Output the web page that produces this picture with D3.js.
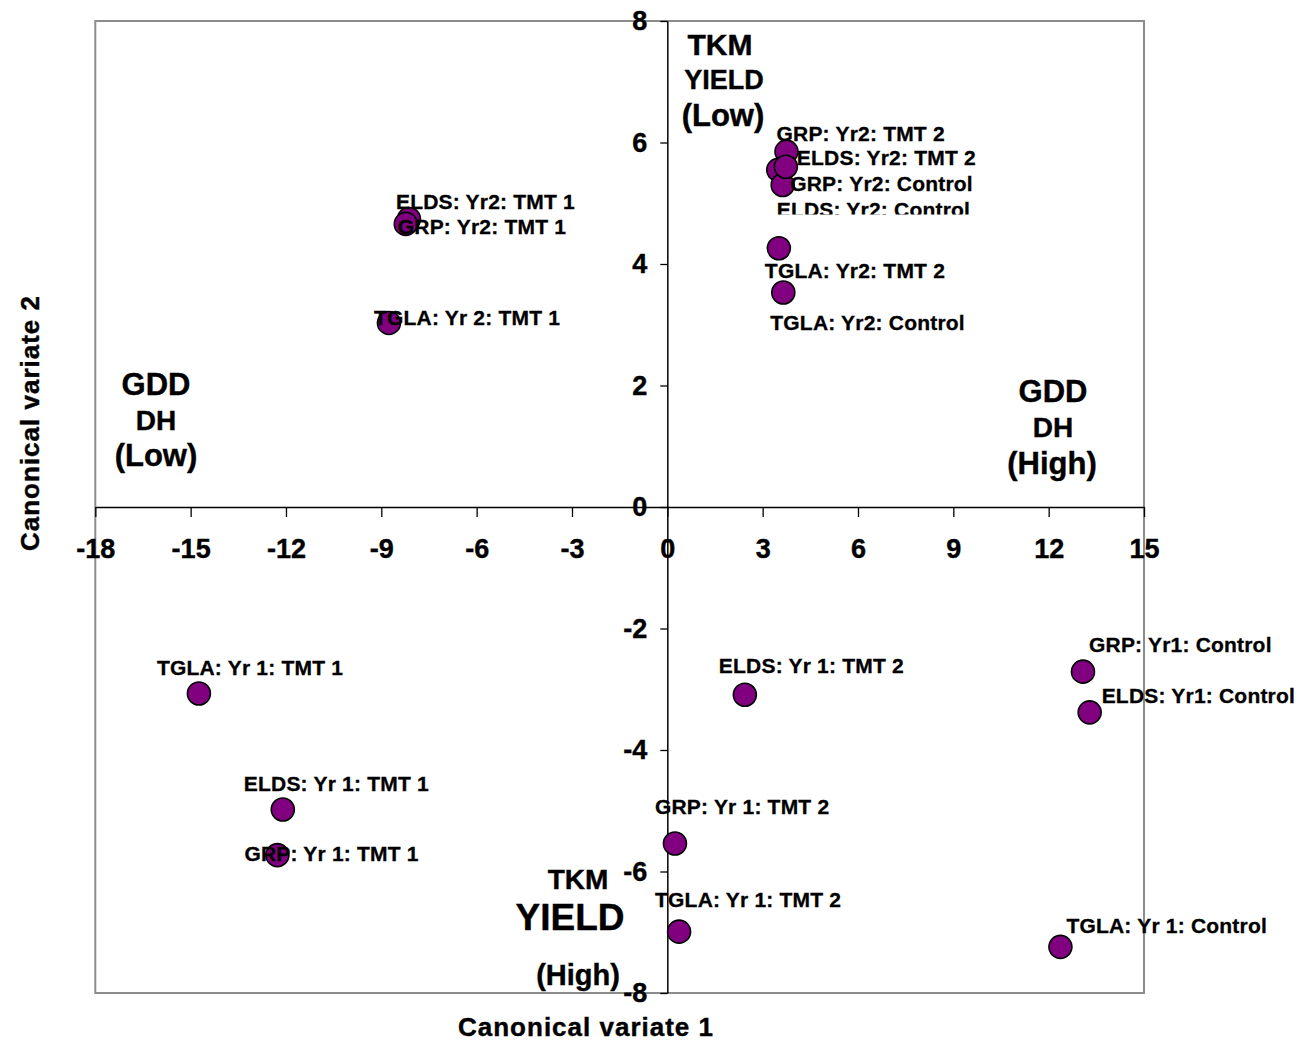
<!DOCTYPE html>
<html>
<head>
<meta charset="utf-8">
<script src="https://cdn.jsdelivr.net/npm/d3@7"></script>
<style>
  html, body { margin: 0; padding: 0; background: #fff; }
  svg { display: block; font-family: "Liberation Sans", Arial, sans-serif; }
</style>
</head>
<body>
<svg id="chart" width="1314" height="1041"></svg>
<script>
// Canonical variate scores for each trait / year / treatment group
const names = [
  "ELDS: Yr2: TMT 1", "GRP: Yr2: TMT 1", "TGLA: Yr 2: TMT 1",
  "GRP: Yr2: TMT 2", "GRP: Yr2: Control", "ELDS: Yr2: Control", "ELDS: Yr2: TMT 2",
  "TGLA: Yr2: TMT 2", "TGLA: Yr2: Control",
  "TGLA: Yr 1: TMT 1", "ELDS: Yr 1: TMT 1", "GRP: Yr 1: TMT 1",
  "ELDS: Yr 1: TMT 2", "GRP: Yr 1: TMT 2", "TGLA: Yr 1: TMT 2",
  "GRP: Yr1: Control", "ELDS: Yr1: Control", "TGLA: Yr 1: Control"
];
const cv1 = [
  -8.13, -8.23, -8.76,
  3.75, 3.49, 3.63, 3.73,
  3.51, 3.65,
  -14.74, -12.10, -12.27,
  2.44, 0.24, 0.37,
  13.08, 13.29, 12.37
];
const cv2 = [
  4.74, 4.66, 3.03,
  5.85, 5.55, 5.30, 5.60,
  4.26, 3.53,
  -3.07, -4.98, -5.73,
  -3.09, -5.54, -6.99,
  -2.71, -3.38, -7.24
];

const xTicks = [-18, -15, -12, -9, -6, -3, 0, 3, 6, 9, 12, 15];
const yTicks = [-8, -6, -4, -2, 0, 2, 4, 6, 8];

// Quadrant interpretation notes
const noteText = ["TKM", "YIELD", "(Low)", "GDD", "DH", "(Low)", "GDD", "DH", "(High)", "TKM", "YIELD", "(High)"];

// ---- layout (pixel placement of labels and notes) ----
const labelOffsets = [
  [-13, -10.5], [-8, 10.5], [-15, 2],
  [-10, -11], [12, 21], [-6, 31.5], [11, -2],
  [-14, 30], [-13, 37],
  [-42, -19], [-39, -19], [-33, 5.5],
  [-26, -21.5], [-20, -30], [-24, -25],
  [6, -19.6], [12, -9], [6, -14]
];
// the label box for this one is cut short just above its baseline
const clippedLabel = "ELDS: Yr2: Control";
const notePlace = [
  [720, 44, 30], [724, 79, 27], [723, 115, 31],
  [156, 384, 31], [156, 420, 28], [156, 455, 31],
  [1053, 391, 31], [1053, 427, 28], [1052, 463, 31],
  [578, 879, 28], [570, 917, 37], [578, 975, 29]
];

const svg = d3.select("#chart");
const x = d3.scaleLinear().domain([-18, 15]).range([95.3, 1144]);
const y = d3.scaleLinear().domain([-8, 8]).range([993, 21]);

// plot frame
svg.append("rect")
  .attr("x", x(-18)).attr("y", y(8))
  .attr("width", x(15) - x(-18)).attr("height", y(-8) - y(8))
  .attr("fill", "none").attr("stroke", "#8c8c8c").attr("stroke-width", 2);

// axes crossing at the origin
const xAxis = svg.append("g")
  .attr("transform", `translate(0,${y(0)})`)
  .call(d3.axisBottom(x).tickValues(xTicks).tickSize(10).tickPadding(21.5).tickSizeOuter(0).tickFormat(d3.format("d")));
const yAxis = svg.append("g")
  .attr("transform", `translate(${x(0)},0)`)
  .call(d3.axisLeft(y).tickValues(yTicks).tickSize(7).tickPadding(13).tickSizeOuter(0).tickFormat(d3.format("d")));

[xAxis, yAxis].forEach(g => {
  g.select(".domain").attr("stroke", "#000").attr("stroke-width", 1.5);
  g.selectAll(".tick line").attr("stroke", "#000").attr("stroke-width", 1.3);
  g.selectAll(".tick text")
    .attr("fill", "#000")
    .attr("stroke", "#000").attr("stroke-width", 0.4)
    .style("font-size", "27px")
    .style("font-weight", "bold")
    .style("font-family", "'Liberation Sans', Arial, sans-serif");
});
xAxis.selectAll(".tick text").text(d => d < 0 ? "-" + Math.abs(d) : d);
yAxis.selectAll(".tick text").text(d => d < 0 ? "-" + Math.abs(d) : d);

// points
const pts = names.map((n, i) => ({ name: n, cx: cv1[i], cy: cv2[i], off: labelOffsets[i] }));

svg.append("g").selectAll("circle")
  .data(pts).join("circle")
  .attr("cx", d => x(d.cx)).attr("cy", d => y(d.cy))
  .attr("r", 11.5)
  .attr("fill", "#800080")
  .attr("stroke", "#000").attr("stroke-width", 1.6);

// clip box for the shortened label
const cl = pts.find(d => d.name === clippedLabel);
svg.append("defs").append("clipPath").attr("id", "labelClip")
  .append("rect")
  .attr("x", x(cl.cx) + cl.off[0] - 5)
  .attr("y", y(cl.cy) + cl.off[1] - 25)
  .attr("width", 260)
  .attr("height", 23);

// point labels
svg.append("g").selectAll("text")
  .data(pts).join("text")
  .attr("x", d => x(d.cx) + d.off[0])
  .attr("y", d => y(d.cy) + d.off[1])
  .attr("clip-path", d => d.name === clippedLabel ? "url(#labelClip)" : null)
  .attr("fill", "#000")
  .attr("stroke", "#000").attr("stroke-width", 0.3)
  .style("font-size", "21px")
  .style("font-weight", "bold")
  .style("letter-spacing", "0.2px")
  .text(d => d.name);

// quadrant notes
svg.append("g").selectAll("text")
  .data(noteText.map((t, i) => ({ t, p: notePlace[i] }))).join("text")
  .attr("x", d => d.p[0])
  .attr("y", d => d.p[1] + 0.36 * d.p[2])
  .attr("text-anchor", "middle")
  .attr("fill", "#000")
  .attr("stroke", "#000").attr("stroke-width", 0.4)
  .style("font-size", d => d.p[2] + "px")
  .style("font-weight", "bold")
  .text(d => d.t);

// axis titles
svg.append("text")
  .attr("x", 586).attr("y", 1036)
  .attr("text-anchor", "middle")
  .attr("stroke", "#000").attr("stroke-width", 0.4)
  .style("font-size", "26px").style("font-weight", "bold").style("letter-spacing", "1px")
  .text("Canonical variate 1");
svg.append("text")
  .attr("transform", "translate(39,423) rotate(-90)")
  .attr("text-anchor", "middle")
  .attr("stroke", "#000").attr("stroke-width", 0.4)
  .style("font-size", "26px").style("font-weight", "bold").style("letter-spacing", "1px")
  .text("Canonical variate 2");
</script>
</body>
</html>
